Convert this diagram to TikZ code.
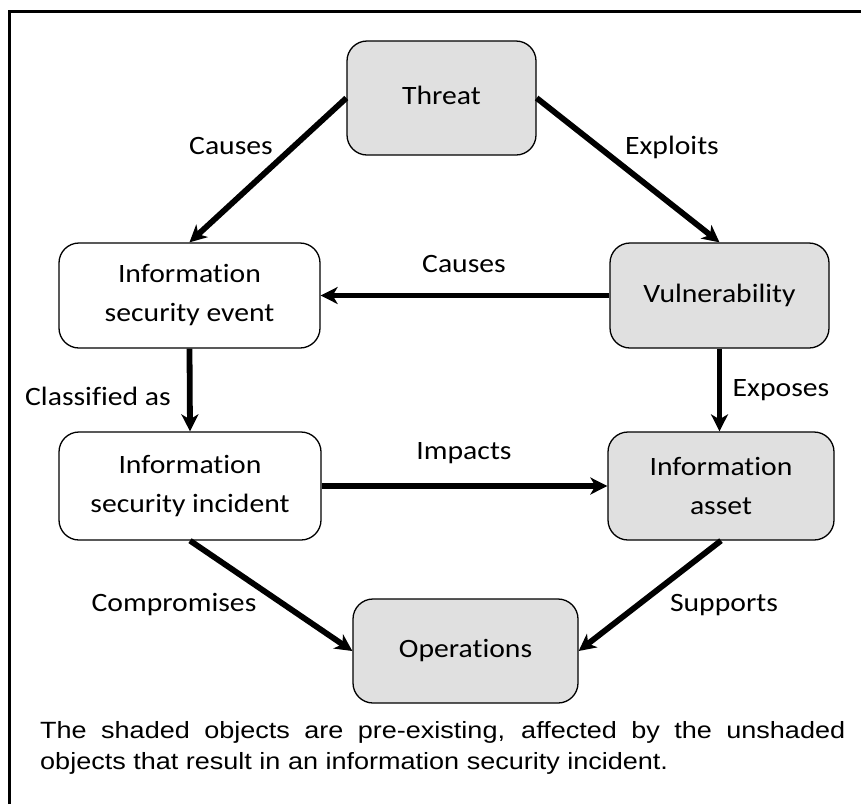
\documentclass[tikz,border=0pt]{standalone}
\usepackage{fontspec}
\setmainfont{Carlito}[FakeStretch=1.12, Ligatures=CommonOff]
\newfontfamily\notefont{Liberation Sans}[FakeStretch=1.15]
\usetikzlibrary{arrows.meta}
\definecolor{shade}{HTML}{E0E0E0}
\tikzset{
  obj/.style={draw=black, line width=1.3pt, rounded corners=20pt, align=center,
    font=\fontsize{26.5}{39}\selectfont, inner sep=0pt},
  preobj/.style={obj, fill=shade},
  link/.style={line width=5.8pt, -{Stealth[length=17pt,width=17pt,inset=5pt]}},
  lbl/.style={font=\fontsize{26.5}{30}\selectfont, inner sep=0pt}
}
\begin{document}
\begin{tikzpicture}[x=1pt, y=-1pt]
  \useasboundingbox (0,0) rectangle (861,804);
  % Frame
  \draw[line width=3pt] (9.5,804) -- (9.5,11) -- (861,11);
  % Objects
  \node[preobj, minimum width=189pt, minimum height=114pt] (threat) at (441.5,98) {\raisebox{5pt}{Threat}};
  \node[obj, minimum width=261pt, minimum height=105pt] (event) at (189.5,295.5) {Information\\security event};
  \node[preobj, minimum width=219pt, minimum height=105pt] (vuln) at (719.5,295.5) {Vulnerability};
  \node[obj, minimum width=262pt, minimum height=108pt] (incident) at (190,486) {Information\\security incident};
  \node[preobj, minimum width=226pt, minimum height=108pt] (asset) at (721,486) {Information\\asset};
  \node[preobj, minimum width=225pt, minimum height=104pt] (ops) at (465.5,651) {Operations};
  % Links between objects
  \draw[link] (threat.west) -- (event.north);
  \draw[link] (threat.east) -- (vuln.north);
  \draw[link] (vuln.west) -- (event.east);
  \draw[link] (event.south) -- (incident.north);
  \draw[link] (vuln.south) -- (vuln.south |- asset.north);
  \draw[link] (incident.east) -- (asset.west);
  \draw[link] (incident.south) -- (ops.west);
  \draw[link] (asset.south) -- (ops.east);
  % Link labels
  \node[lbl] (causesA) at (231,146) {Causes};
  \node[lbl] (exploits) at (672,147) {Exploits};
  \node[lbl] (causesB) at (464,264) {Causes};
  \node[lbl] (classified) at (98,396) {Classified as};
  \node[lbl] (exposes) at (781,390) {Exposes};
  \node[lbl] (impacts) at (464,453) {Impacts};
  \node[lbl] (compromises) at (174,605) {Compromises};
  \node[lbl] (supports) at (724,605) {Supports};
  % Note
  \node[anchor=north west, inner sep=0pt, text width=805pt, align=justify,
    font=\notefont\fontsize{23.5}{31}\selectfont] (note) at (40,721)
    {The shaded objects are pre-existing, affected by the unshaded\linebreak objects that result in an information security incident.};
\end{tikzpicture}
\end{document}
